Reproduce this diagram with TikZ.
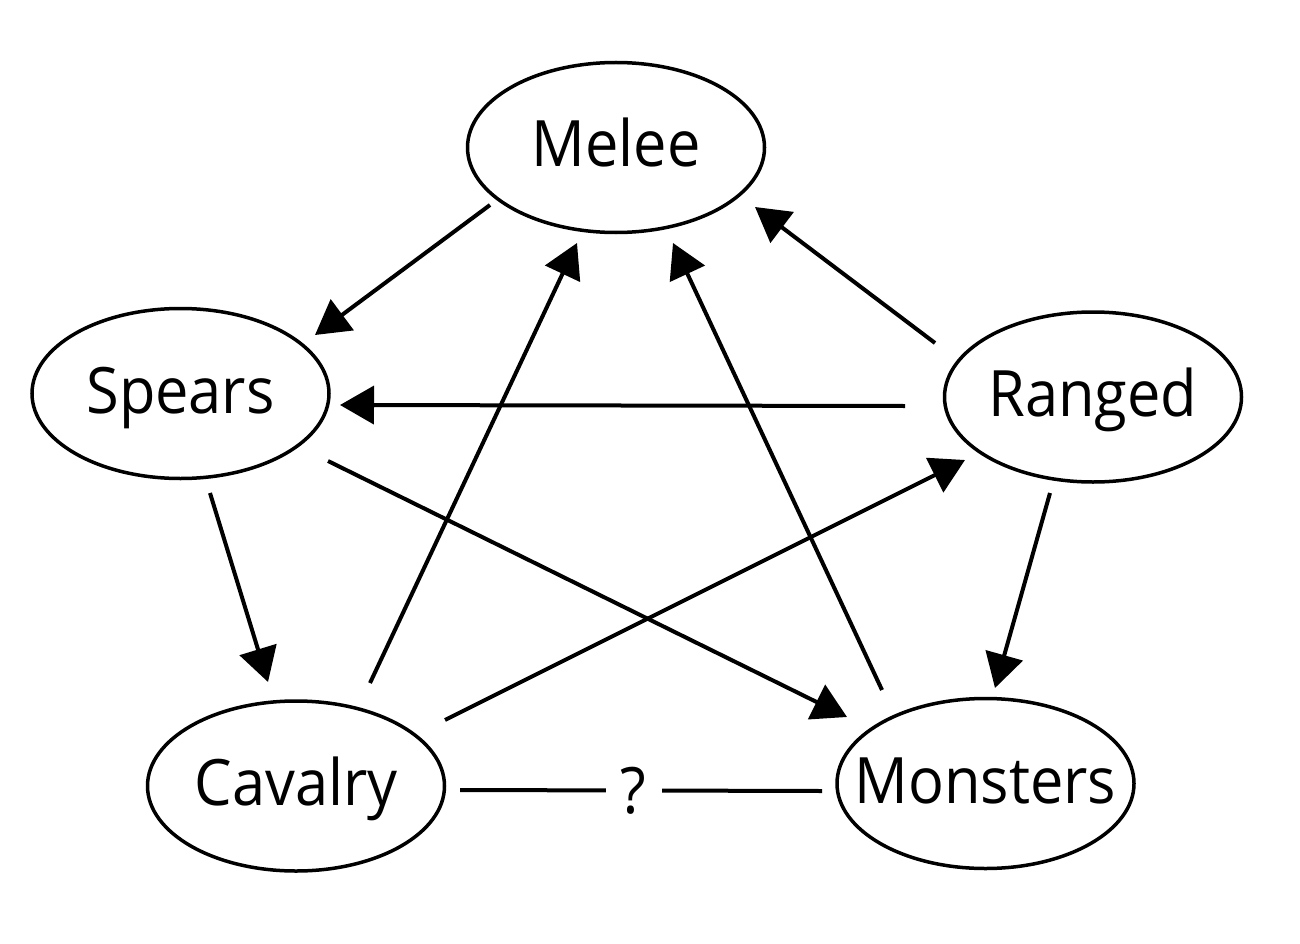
\documentclass[tikz,border=0pt]{standalone}
\usepackage{fontspec}
\setmainfont{Open Sans}[FakeStretch=0.93]
\usetikzlibrary{arrows.meta,shapes.geometric,calc}
\begin{document}
\begin{tikzpicture}[x=1pt,y=-1pt,
  unit/.style={draw=black,line width=3.5pt,ellipse,minimum width=297pt,minimum height=170pt,inner sep=0pt,
    text width=0pt,align=center,text height=39pt,text depth=0pt,font=\fontsize{64}{70}\selectfont},
  conn/.style={line width=4pt,-{Triangle[length=34pt,width=38pt]}},
  plain/.style={line width=4pt}]
\useasboundingbox (0,0) rectangle (1300,944);
\node[unit] (melee) at (616,147.5) {\makebox[0pt]{Melee}};
\node[unit] (spears) at (180.5,393.5) {\makebox[0pt]{Spears}};
\node[unit] (ranged) at (1093,397) {\makebox[0pt]{Ranged}};
\node[unit] (cavalry) at (296,786) {\makebox[0pt]{Cavalry}};
\node[unit] (monsters) at (985.5,783.5) {\makebox[0pt]{Monsters}};
\draw[conn] ($(melee)+(-126,57.5)$) -- ($(spears)+(134.5,-58.5)$);
\draw[conn] ($(ranged)+(-158,-54)$) -- ($(melee)+(139,59.5)$);
\draw[conn] ($(cavalry)+(74,-103)$) -- ($(melee)+(-39,95.5)$);
\draw[conn] ($(monsters)+(-103.5,-93.5)$) -- ($(melee)+(57,95.5)$);
\draw[conn] ($(ranged)+(-188,9)$) -- ($(spears)+(159.5,11.5)$);
\draw[conn] ($(spears)+(29.5,99.5)$) -- ($(cavalry)+(-28,-104)$);
\draw[conn] ($(spears)+(147.5,67.5)$) -- ($(monsters)+(-138.5,-66.5)$);
\draw[conn] ($(cavalry)+(149,-66)$) -- ($(ranged)+(-128,63)$);
\draw[conn] ($(ranged)+(-43,96)$) -- ($(monsters)+(9.5,-95.5)$);
\draw[plain] ($(cavalry)+(164,4)$) -- node[pos=0.48,fill=white,inner sep=0pt,minimum width=56pt,minimum height=60pt,font=\fontsize{64}{70}\selectfont] (q) {?} ($(monsters)+(-163.5,7.5)$);
\end{tikzpicture}
\end{document}
